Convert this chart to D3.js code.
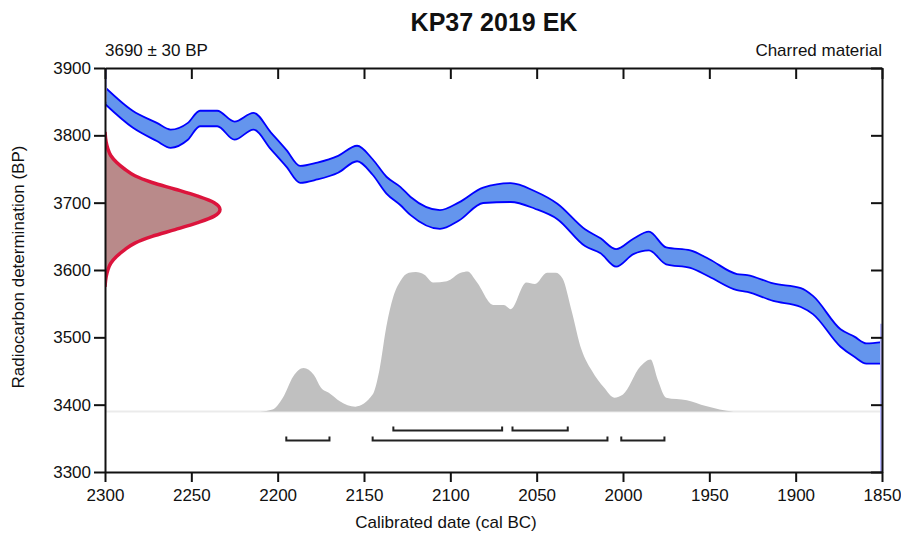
<!DOCTYPE html>
<html>
<head>
<meta charset="utf-8">
<script src="https://cdn.jsdelivr.net/npm/d3@7"></script>
<style>
  body { margin: 0; background: #fff; }
  svg text { font-family: "Liberation Sans", Arial, sans-serif; fill: #111; }
  .axis path, .axis line { stroke: #111; stroke-width: 2; }
  .axis text { font-size: 17px; }
</style>
</head>
<body>
<div class="chart"></div>
<script>
// Calibration curve (cal BC -> BP, with 1 sigma band)
var calYears = [2300, 2284, 2270, 2262, 2252, 2245, 2235, 2225, 2214, 2204, 2195, 2187, 2177, 2165, 2154, 2145, 2137, 2129, 2123, 2106, 2095, 2081, 2065, 2051, 2038, 2022, 2013, 2004, 1994, 1985, 1975, 1961, 1950, 1934, 1928, 1913, 1897, 1890, 1874, 1866, 1859, 1850];
var curveBP = [3859, 3824, 3805, 3795, 3806, 3825, 3825, 3807, 3821, 3792, 3766, 3742, 3747, 3757, 3773, 3753, 3726, 3710, 3695, 3675, 3687, 3711, 3715, 3704, 3687, 3648, 3636, 3618, 3635, 3643, 3621, 3616, 3603, 3582, 3580, 3567, 3559, 3548, 3499, 3486, 3476, 3477];
var curveErr = [12.5, 12.5, 13.5, 13.5, 12.5, 11.5, 11.5, 13.5, 12.5, 12.5, 12.5, 12.5, 12.5, 12.5, 11.5, 11.5, 12.5, 13.5, 13.5, 14, 13.5, 11.5, 14, 13, 11.5, 12.5, 11, 13, 11.5, 14, 12.5, 13, 13, 12, 12.5, 13, 14, 13.5, 13, 15, 15, 16];

// Calibrated probability distribution (relative)
var probYears = [2300, 2210, 2203, 2197, 2191, 2185, 2179, 2175, 2170, 2164, 2155, 2145, 2141, 2137, 2133, 2129, 2124, 2120, 2115, 2110, 2102, 2094, 2090, 2085, 2075, 2069, 2065, 2056, 2051, 2044, 2039, 2035, 2030, 2024, 2018, 2011, 2005, 2000, 1990, 1984, 1980, 1975, 1963, 1952, 1936, 1850];
var probValues = [0, 0, 0.014, 0.098, 0.25, 0.31, 0.26, 0.17, 0.13, 0.073, 0.034, 0.12, 0.30, 0.61, 0.82, 0.93, 0.99, 0.995, 0.976, 0.92, 0.93, 0.99, 1.0, 0.93, 0.76, 0.76, 0.73, 0.92, 0.91, 0.99, 0.99, 0.95, 0.73, 0.44, 0.29, 0.17, 0.098, 0.12, 0.32, 0.37, 0.23, 0.098, 0.08, 0.038, 0, 0];

// Radiocarbon measurement distribution (3690 +/- 30 BP)
var measBP = [3805, 3790, 3780, 3770, 3760, 3750, 3740, 3730, 3720, 3710, 3700, 3690, 3680, 3670, 3660, 3650, 3640, 3630, 3620, 3610, 3600, 3590, 3575];
var measDens = [0.0, 0.01, 0.025, 0.05, 0.1, 0.17, 0.26, 0.41, 0.61, 0.80, 0.95, 1.0, 0.95, 0.80, 0.61, 0.41, 0.26, 0.17, 0.1, 0.05, 0.025, 0.01, 0.0];

// Ranges
var range68 = [[2133, 2070], [2064, 2032]];
var range95 = [[2195, 2170], [2145, 2009], [2001, 1976]];

var xTicks = [2300, 2250, 2200, 2150, 2100, 2050, 2000, 1950, 1900, 1850];
var yTicks = [3300, 3400, 3500, 3600, 3700, 3800, 3900];

var svgWidth = 901;
var svgHeight = 534;
var margin = {top: 68, right: 19, bottom: 62, left: 105};
var width = svgWidth - margin.left - margin.right;
var height = svgHeight - margin.top - margin.bottom;

var svg = d3.select(".chart")
    .append("svg")
    .attr("width", svgWidth)
    .attr("height", svgHeight);

var chart = svg.append("g")
    .attr("transform", "translate(" + margin.left + "," + margin.top + ")");

var x = d3.scaleLinear().domain([2300, 1850]).range([0, width]);
var y = d3.scaleLinear().domain([3300, 3900]).range([height, 0]);
var yProb = d3.scaleLinear().domain([0, 1]).range([y(3390), y(3390) - 140]);
var xDens = d3.scaleLinear().domain([0, 1]).range([0, 115]);

chart.append("clipPath").attr("id", "clip")
    .append("rect").attr("width", width).attr("height", height);

var plot = chart.append("g").attr("clip-path", "url(#clip)");

// baseline of probability
plot.append("line")
    .attr("x1", 0).attr("x2", width)
    .attr("y1", y(3390)).attr("y2", y(3390))
    .style("stroke", "#ebebeb")
    .style("stroke-width", 2);

// gray probability
var probData = probYears.map(function(d, i) { return {year: d, p: probValues[i]}; });
plot.append("path")
    .datum(probData)
    .attr("d", d3.area()
        .x(function(d) { return x(d.year); })
        .y0(yProb(0))
        .y1(function(d) { return yProb(d.p); })
        .curve(d3.curveMonotoneX))
    .style("fill", "#c0c0c0");

// calibration curve band
var curveData = calYears.map(function(d, i) {
    return {year: d, bp: curveBP[i], err: curveErr[i]};
});
plot.append("path")
    .datum(curveData)
    .attr("d", d3.area()
        .x(function(d) { return x(d.year); })
        .y0(function(d) { return y(d.bp - d.err); })
        .y1(function(d) { return y(d.bp + d.err); })
        .curve(d3.curveMonotoneX))
    .style("fill", "#6495ed")
    .style("stroke", "#0000ff")
    .style("stroke-width", 1.8);

// faint edge artifacts
plot.append("line")
    .attr("x1", 1).attr("x2", 1).attr("y1", 0).attr("y2", y(3850))
    .style("stroke", "#b8b8ff").style("stroke-width", 2);
plot.append("line")
    .attr("x1", width - 1).attr("x2", width - 1).attr("y1", y(3520)).attr("y2", height)
    .style("stroke", "#b8b8ff").style("stroke-width", 2);

// measurement distribution
var measData = measBP.map(function(d, i) { return {bp: d, v: measDens[i]}; });
plot.append("path")
    .datum(measData)
    .attr("d", d3.area()
        .y(function(d) { return y(d.bp); })
        .x0(0)
        .x1(function(d) { return xDens(d.v); })
        .curve(d3.curveMonotoneY))
    .style("fill", "#b98a8a");
plot.append("path")
    .datum(measData)
    .attr("d", d3.line()
        .y(function(d) { return y(d.bp); })
        .x(function(d) { return xDens(d.v); })
        .curve(d3.curveMonotoneY))
    .style("fill", "none")
    .style("stroke", "#dc143c")
    .style("stroke-width", 3.5);

// range brackets
function drawRanges(ranges, rowY) {
    ranges.forEach(function(r) {
        var x1 = x(r[0]), x2 = x(r[1]);
        chart.append("path")
            .attr("d", "M" + x1 + "," + (rowY - 4) + "V" + rowY + "H" + x2 + "V" + (rowY - 4))
            .style("fill", "none")
            .style("stroke", "#222")
            .style("stroke-width", 2);
    });
}
drawRanges(range68, 430.5 - margin.top);
drawRanges(range95, 440.5 - margin.top);

// axes
chart.append("g")
    .attr("class", "axis")
    .attr("transform", "translate(0," + height + ")")
    .call(d3.axisBottom(x).tickValues(xTicks).tickSize(10).tickSizeOuter(0).tickPadding(7).tickFormat(d3.format("d")));

chart.append("g")
    .attr("class", "axis")
    .call(d3.axisTop(x).tickValues(xTicks).tickSize(-11).tickSizeOuter(0).tickFormat(""));

chart.append("g")
    .attr("class", "axis")
    .call(d3.axisLeft(y).tickValues(yTicks).tickSize(11).tickSizeOuter(0).tickPadding(3).tickFormat(d3.format("d")));

chart.append("g")
    .attr("class", "axis")
    .attr("transform", "translate(" + width + ",0)")
    .call(d3.axisRight(y).tickValues(yTicks).tickSize(-11).tickSizeOuter(0).tickFormat(""));

// titles
svg.append("text")
    .attr("x", 494).attr("y", 31)
    .attr("text-anchor", "middle")
    .style("font-size", "25px")
    .style("font-weight", "bold")
    .text("KP37 2019 EK");

svg.append("text")
    .attr("x", 105).attr("y", 56)
    .style("font-size", "17px")
    .text("3690 \u00b1 30 BP");

svg.append("text")
    .attr("x", 882).attr("y", 56)
    .attr("text-anchor", "end")
    .style("font-size", "17px")
    .text("Charred material");

svg.append("text")
    .attr("x", 446).attr("y", 528)
    .attr("text-anchor", "middle")
    .style("font-size", "17px")
    .text("Calibrated date (cal BC)");

svg.append("text")
    .attr("transform", "translate(24,267) rotate(-90)")
    .attr("text-anchor", "middle")
    .style("font-size", "17px")
    .text("Radiocarbon determination (BP)");
</script>
</body>
</html>
